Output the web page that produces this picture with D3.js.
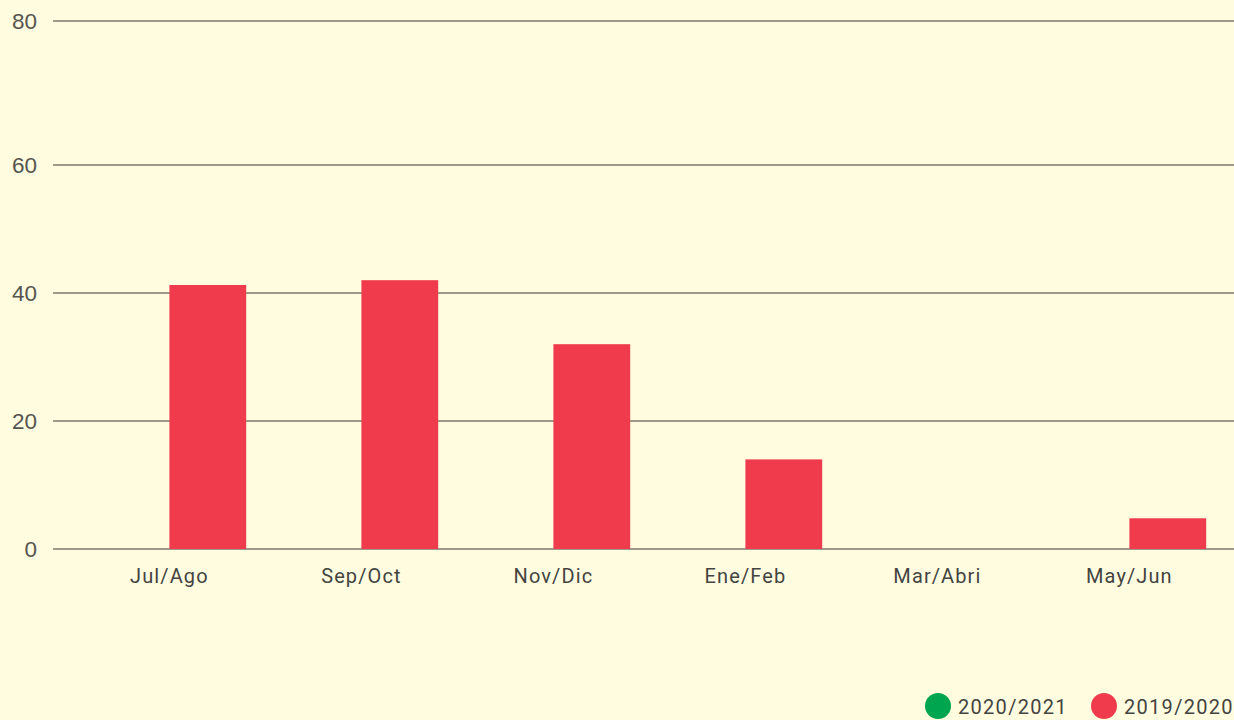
<!DOCTYPE html>
<html>
<head>
<meta charset="utf-8">
<script src="https://cdn.jsdelivr.net/npm/d3@7"></script>
<style>
  html, body { margin: 0; padding: 0; background: #fffce0; overflow: hidden; }
  svg { display: block; }
</style>
</head>
<body>
<svg id="chart" width="1234" height="720"></svg>
<script>
// ---- data ----
const categories = ["Jul/Ago", "Sep/Oct", "Nov/Dic", "Ene/Feb", "Mar/Abri", "May/Jun"];
const seriesNames = ["2020/2021", "2019/2020"];
const series2020_2021 = [0, 0, 0, 0, 0, 0];
const series2019_2020 = [41.25, 42.0, 32.0, 14.0, 0, 4.8];
const seriesColors = ["#00a550", "#ef3b4b"];
const yTickValues = [0, 20, 40, 60];
const yTickLabels = ["0", "20", "40", "60", "80"];
const yMax = 82.5;

// ---- layout ----
const svg = d3.select("#chart");
const W = 1234, H = 720;
const yTop = 21, yBottom = 549;
const gridLeft = 53, gridRight = 1234;

svg.append("rect").attr("width", W).attr("height", H).attr("fill", "#fffce0");

const y = d3.scaleLinear().domain([0, yMax]).range([yBottom, yTop]);
const x0 = d3.scaleBand().domain(categories).range([73.4, 1225.4]).paddingInner(0.2).paddingOuter(0.1);
const x1 = d3.scaleBand().domain(seriesNames).range([0, x0.bandwidth()]).padding(0);

const seriesData = [series2020_2021, series2019_2020];

// grid lines + y labels
const gridVals = yTickValues.map(v => y(v)).concat([yTop]);
const grid = svg.append("g");
gridVals.forEach((py, i) => {
  grid.append("line")
    .attr("x1", gridLeft).attr("x2", gridRight)
    .attr("y1", py).attr("y2", py)
    .attr("stroke", "#9c9b88").attr("stroke-width", 2);
  grid.append("text")
    .attr("x", 37).attr("y", py + 2.5)
    .attr("text-anchor", "end")
    .attr("dominant-baseline", "middle")
    .attr("font-family", "'Liberation Sans', Arial, sans-serif")
    .attr("font-size", 22.5)
    .attr("fill", "#555550")
    .text(yTickLabels[i]);
});

// bars
const groups = svg.append("g").selectAll("g")
  .data(categories)
  .join("g")
  .attr("transform", d => `translate(${x0(d)},0)`);

groups.selectAll("rect")
  .data((d, ci) => seriesNames.map((s, si) => ({ s, v: seriesData[si][ci], si })))
  .join("rect")
  .attr("x", d => x1(d.s))
  .attr("width", x1.bandwidth())
  .attr("y", d => y(d.v))
  .attr("height", d => y(0) - y(d.v))
  .attr("fill", d => seriesColors[d.si]);

// x labels
svg.append("g").selectAll("text")
  .data(categories)
  .join("text")
  .attr("x", d => x0(d) + x0.bandwidth() / 2)
  .attr("y", 578)
  .attr("text-anchor", "middle")
  .attr("dominant-baseline", "middle")
  .attr("font-family", "Roboto, sans-serif")
  .attr("font-size", 20)
  .attr("letter-spacing", "1.1px")
  .attr("fill", "#444440")
  .text(d => d);

// legend
const legendX = [938, 1104];
const legend = svg.append("g");
seriesNames.forEach((s, i) => {
  legend.append("circle")
    .attr("cx", legendX[i]).attr("cy", 706).attr("r", 13)
    .attr("fill", seriesColors[i]);
  legend.append("text")
    .attr("x", legendX[i] + 20).attr("y", 709)
    .attr("dominant-baseline", "middle")
    .attr("font-family", "Roboto, sans-serif")
    .attr("font-size", 20)
    .attr("letter-spacing", "1.3px")
    .attr("fill", "#444440")
    .text(s);
});
</script>
</body>
</html>
